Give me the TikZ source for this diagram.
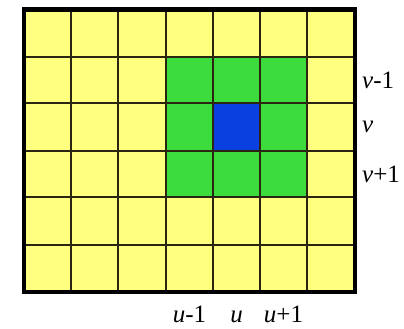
\documentclass[tikz,border=0pt]{standalone}
\usepackage{fontspec}
\setmainfont{Liberation Serif}
\definecolor{cellyellow}{HTML}{FFFF80}
\definecolor{cellgreen}{HTML}{3CDC3C}
\definecolor{cellblue}{HTML}{0A40E0}
\definecolor{gridline}{HTML}{2A2410}
\tikzset{
  gridln/.style={draw=gridline, line width=1.3pt},
  frame/.style={draw=black, line width=4.5pt},
  lab/.style={font=\fontsize{25}{28}\selectfont, inner sep=0pt},
}
\begin{document}
\begin{tikzpicture}[x=1pt,y=-1pt]
\useasboundingbox (0,0) rectangle (404,329);
\fill[cellyellow] (24,9.5) rectangle (355,292);
\fill[cellgreen] (166,57) rectangle (307,197);
\fill[cellblue] (213,103) rectangle (260,151);
\foreach \x in {71,118,166,213,260,307} \draw[gridln] (\x,9.5) -- (\x,292);
\foreach \y in {57,103,151,197,245} \draw[gridln] (24,\y) -- (355,\y);
\draw[frame] (24,9.5) rectangle (355,292);
\node[lab, anchor=west] (vm) at (362,80) {\textit{v}-1};
\node[lab, anchor=west] (v) at (362,127) {\textit{v}};
\node[lab, anchor=west] (vp) at (362,174) {\textit{v}+1};
\node[lab, anchor=base] (um) at (189.5,322) {\textit{u}-1};
\node[lab, anchor=base] (u) at (236.5,322) {\textit{u}};
\node[lab, anchor=base] (up) at (283.5,322) {\textit{u}+1};
\end{tikzpicture}
\end{document}
